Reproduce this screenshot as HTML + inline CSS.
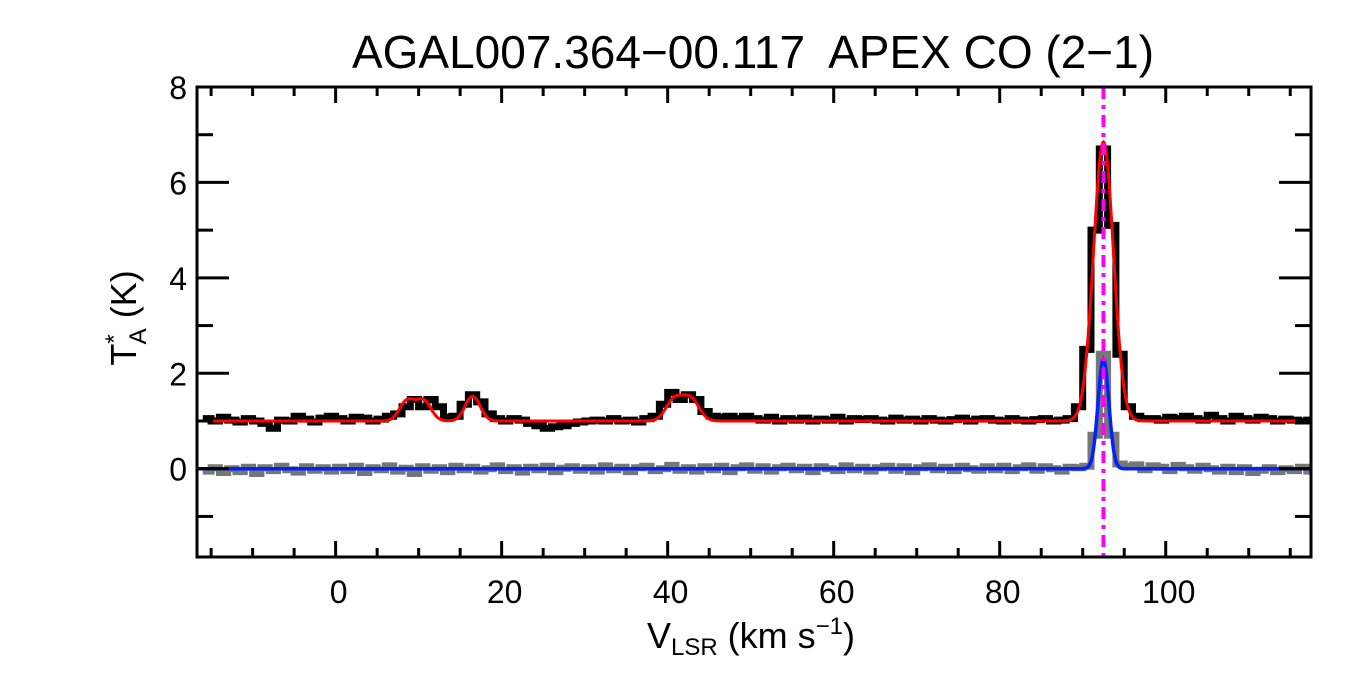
<!DOCTYPE html>
<html><head><meta charset="utf-8"><style>
body{margin:0;background:#fff;}
svg text{font-family:"Liberation Sans",sans-serif;fill:#000;}
</style></head><body>
<svg id="chart" width="1350" height="675" viewBox="0 0 1350 675" xmlns="http://www.w3.org/2000/svg">
<text x="753" y="68" font-size="46" text-anchor="middle" xml:space="preserve">AGAL007.364−00.117  APEX CO (2−1)</text>
<g id="plot"></g>
<text x="751" y="648" font-size="36" text-anchor="middle">V<tspan font-size="24" dy="7">LSR</tspan><tspan dy="-7"> (km s</tspan><tspan font-size="24" dy="-14">−1</tspan><tspan dy="14">)</tspan></text>
<text transform="translate(136,318) rotate(-90)" font-size="36" text-anchor="middle">T<tspan font-size="24" dy="-14">*</tspan><tspan font-size="24" dx="-10" dy="24">A</tspan><tspan dy="-10"> (K)</tspan></text>
</svg>
<script>
const xMin=-16.7, xMax=117.5, yMin=-1.85, yMax=8.0;
const xTicks=[0,20,40,60,80,100];
const yTicks=[0,2,4,6,8];
const velStart=-15.5;
const tmbSpectrum=[1.05,1.0,1.08,1.02,0.98,1.05,1.0,0.95,0.85,1.02,1.0,1.1,1.04,0.98,1.06,1.1,
1.05,1.0,1.08,1.06,1.0,1.04,1.1,1.15,1.3,1.45,1.3,1.45,1.3,1.08,1.1,1.35,
1.55,1.4,1.15,1.05,1.0,1.05,1.02,0.95,0.9,0.85,0.88,0.9,0.95,0.98,1.0,1.02,
1.0,1.05,1.0,1.02,0.98,1.05,1.1,1.35,1.6,1.45,1.55,1.45,1.2,1.1,1.08,1.1,
1.05,1.1,1.05,1.02,1.08,1.0,1.05,1.02,1.06,1.0,1.04,1.02,1.08,1.0,1.05,1.03,
1.05,1.02,1.0,1.06,1.02,1.04,1.0,1.05,1.02,1.0,1.03,1.06,1.0,1.04,1.05,1.02,
1.0,1.05,1.02,1.0,1.03,1.05,1.0,1.02,1.05,1.3,2.5,5.0,6.7,5.1,2.4,1.3,
1.1,1.05,1.05,1.02,1.08,1.05,1.1,1.05,1.02,1.12,1.05,1.0,1.1,1.05,1.02,1.08,
1.05,1.0,1.04,1.02,1.0,1.02];
const isoSpectrum=[-0.05,0.02,-0.08,0.0,-0.06,0.03,-0.1,0.02,-0.04,0.05,-0.02,-0.07,0.04,-0.03,0.02,-0.05,
0.03,-0.04,0.05,-0.08,0.02,-0.02,0.06,-0.05,0.01,-0.1,0.04,-0.03,0.02,-0.06,0.05,-0.02,
0.03,-0.05,0.0,0.06,-0.04,0.02,-0.07,0.03,-0.02,0.05,-0.06,0.01,0.04,-0.03,0.02,-0.05,
0.06,-0.02,0.03,-0.06,0.02,0.05,-0.04,0.0,0.07,-0.03,0.02,-0.05,0.04,-0.02,0.05,-0.06,
0.02,0.06,-0.03,0.04,-0.05,0.02,0.05,-0.02,0.03,-0.06,0.04,0.0,-0.04,0.06,-0.02,0.03,
-0.05,0.02,0.05,-0.03,0.04,-0.06,0.02,0.06,-0.02,0.03,-0.04,0.05,0.0,-0.03,0.04,-0.02,
0.05,-0.04,0.02,0.06,-0.03,0.04,0.0,-0.05,0.03,0.02,0.05,0.7,2.4,0.7,0.1,0.05,
0.08,-0.02,0.06,0.03,-0.04,0.07,0.02,-0.03,0.05,0.0,-0.05,0.03,-0.06,0.02,-0.08,-0.03,
0.02,-0.06,0.0,-0.04,0.03,-0.05];
const redCenters=[8.6,10.6,16.5,40.8,42.8,92.5];
const redAmps=[0.42,0.42,0.52,0.45,0.45,5.85];
const redSigmas=[0.9,0.9,0.9,1.0,1.0,1.2];
const redBase=1.0;
const blueCenters=[92.5];
const blueAmps=[2.3];
const blueSigmas=[0.65];
const blueBase=0.0;
const markerVel=92.5;

const L=197,R=1311,T=87,B=557;
const sx=v=>L+(v-xMin)/(xMax-xMin)*(R-L);
const sy=t=>B-(t-yMin)/(yMax-yMin)*(B-T);
const NS='http://www.w3.org/2000/svg';
const plot=document.getElementById('plot');
function mk(tag,attrs){const e=document.createElementNS(NS,tag);for(const k in attrs)e.setAttribute(k,attrs[k]);plot.appendChild(e);return e;}
function clamp(v){return Math.max(xMin,Math.min(xMax,v));}
function stepPath(arr){let d='';arr.forEach((t,i)=>{const v=velStart+i;const x0=sx(clamp(v-0.5)),x1=sx(clamp(v+0.5));d+=(i?'L':'M')+x0.toFixed(1)+' '+sy(t).toFixed(1)+'L'+x1.toFixed(1)+' '+sy(t).toFixed(1);});return d;}
function fitPath(base,c,a,s){let d='';for(let v=xMin;v<=xMax;v+=0.1){let t=base;for(let k=0;k<c.length;k++)t+=a[k]*Math.exp(-0.5*((v-c[k])/s[k])**2);d+=(d?'L':'M')+sx(v).toFixed(1)+' '+sy(t).toFixed(1);}return d;}

const g1=mk('path',{d:stepPath(isoSpectrum),fill:'none',stroke:'#777',"stroke-width":7});


const g2=mk('path',{d:stepPath(tmbSpectrum),fill:'none',stroke:'#000',"stroke-width":7});


const f1=mk('path',{d:fitPath(redBase,redCenters,redAmps,redSigmas),fill:'none',stroke:'#ff0000',"stroke-width":3});


const f2=mk('path',{d:fitPath(blueBase,blueCenters,blueAmps,blueSigmas),fill:'none',stroke:'#0022ff',"stroke-width":3.5});


const m=mk('line',{x1:sx(markerVel),x2:sx(markerVel),y1:T,y2:B,stroke:'#ff00ff',"stroke-width":4,"stroke-dasharray":"12 6 4 6"});



const box=mk('rect',{x:L,y:T,width:R-L,height:B-T,fill:'none',stroke:'#000',"stroke-width":3});


for(let v=-15;v<=115;v+=5){const maj=v%20===0;const len=maj?16:9;
 const a=mk('line',{x1:sx(v),x2:sx(v),y1:B,y2:B-len,stroke:'#000',"stroke-width":3});
 
 
 const b=mk('line',{x1:sx(v),x2:sx(v),y1:T,y2:T+len,stroke:'#000',"stroke-width":3});
 
 }
xTicks.forEach(v=>{const t=mk('text',{x:sx(v)+3,y:603,"font-size":32,"text-anchor":"middle"});t.textContent=v;
 
 });
for(let t=-1;t<=8;t+=1){const maj=t%2===0;const len=maj?32:16;
 const a=mk('line',{x1:L,x2:L+len,y1:sy(t),y2:sy(t),stroke:'#000',"stroke-width":3});
 
 
 const b=mk('line',{x1:R,x2:R-len,y1:sy(t),y2:sy(t),stroke:'#000',"stroke-width":3});
 
 }
yTicks.forEach(t=>{const e=mk('text',{x:187,y:sy(t)+12,"font-size":32,"text-anchor":"end"});e.textContent=t;
 
 });
</script>
</body></html>
